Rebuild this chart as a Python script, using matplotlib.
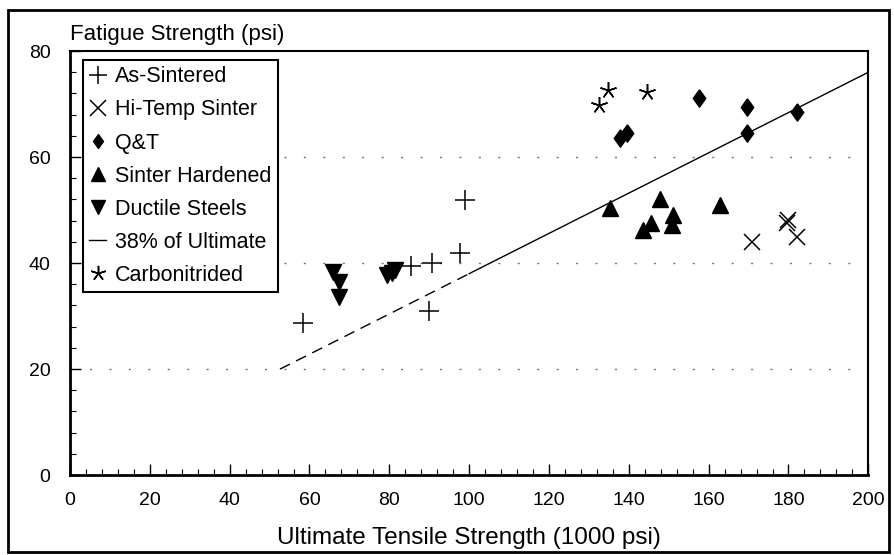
import numpy as np
import matplotlib.pyplot as plt
from matplotlib.patches import Rectangle
from matplotlib.ticker import MultipleLocator

plt.rcParams['font.family'] = ['Liberation Sans', 'DejaVu Sans']

# Fatigue strength vs ultimate tensile strength, by processing route
as_sintered_x = [58.4, 90.0, 85.5, 90.7, 97.7, 99.0]
as_sintered_y = [28.7, 30.9, 39.4, 40.0, 41.9, 51.9]

hi_temp_x = [170.9, 179.7, 180.0, 182.2]
hi_temp_y = [44.0, 47.5, 48.1, 44.9]

qt_x = [137.8, 139.6, 157.6, 169.6, 169.6, 182.2]
qt_y = [63.6, 64.5, 71.1, 69.4, 64.5, 68.5]

sinter_hard_x = [135.3, 143.6, 145.6, 147.9, 150.9, 151.1, 162.9]
sinter_hard_y = [50.4, 46.2, 47.5, 52.1, 47.2, 49.0, 50.9]

ductile_x = [65.9, 67.4, 67.4, 79.4, 80.6, 81.5]
ductile_y = [38.3, 36.4, 33.6, 37.7, 38.1, 38.7]

carbo_x = [132.6, 134.8, 144.6]
carbo_y = [69.8, 72.6, 72.3]

ratio = 0.38
line_start, line_break, line_end = 52.6, 100.0, 200.0

# slightly tall diamond
diamond = [(0, 1), (0.72, 0), (0, -1), (-0.72, 0), (0, 1)]

fig = plt.figure(figsize=(8.95, 5.55), dpi=100)
ax = fig.add_axes([0.0782, 0.144, 0.892, 0.764])

# dotted reference lines
for yv in [20, 40, 60]:
    ax.axhline(yv, color='0.45', lw=1.0, ls=(0, (1.5, 12.5)), zorder=0)

# 38% of ultimate: dashed at low strength, solid above
xd = np.array([line_start, line_break])
xs = np.array([line_break, line_end])
ax.plot(xd, ratio * xd, color='black', lw=1.0, ls=(0, (8, 5)))
ax.plot(xs, ratio * xs, color='black', lw=1.0)

kw = dict(ls='none', color='black')
h1, = ax.plot(as_sintered_x, as_sintered_y, marker='+', ms=15, mew=1.1, **kw)
h2, = ax.plot(hi_temp_x, hi_temp_y, marker='x', ms=12, mew=1.1, **kw)
h3, = ax.plot(qt_x, qt_y, marker=diamond, ms=12.5, **kw)
h4, = ax.plot(sinter_hard_x, sinter_hard_y, marker='^', ms=11, **kw)
h5, = ax.plot(ductile_x, ductile_y, marker='v', ms=11, **kw)
h6, = ax.plot([], [], color='black', lw=1.0)
h7, = ax.plot(carbo_x, carbo_y, marker=(5, 2, 0), ms=12, mew=1.1, **kw)

leg = ax.legend([h1, h2, h3, h4, h5, h6, h7],
                ['As-Sintered', 'Hi-Temp Sinter', 'Q&T', 'Sinter Hardened',
                 'Ductile Steels', '38% of Ultimate', 'Carbonitrided'],
                loc='upper left', bbox_to_anchor=(0.016, 0.979), borderaxespad=0,
                fontsize=15.5, handlelength=0.8, handletextpad=0.4, labelspacing=0.56,
                borderpad=0.3, fancybox=False, framealpha=1, edgecolor='black')
leg.get_frame().set_linewidth(1.5)
for h, s in zip(leg.legend_handles, [13, 11, 10, 10, 10, None, 11]):
    if s:
        h.set_markersize(s)

ax.set_xlim(0, 200)
ax.set_ylim(0, 80)
ax.xaxis.set_major_locator(MultipleLocator(20))
ax.xaxis.set_minor_locator(MultipleLocator(4))
ax.yaxis.set_major_locator(MultipleLocator(20))
ax.yaxis.set_minor_locator(MultipleLocator(4))
ax.tick_params(which='both', direction='in', top=False, right=False, labelsize=14)
ax.tick_params(axis='x', which='major', length=8, width=1.0, pad=12)
ax.tick_params(axis='y', which='major', length=8, width=1.0, pad=14)
ax.tick_params(which='minor', length=4, width=0.8)

for side in ['left', 'bottom']:
    ax.spines[side].set_linewidth(2.0)
for side in ['top', 'right']:
    ax.spines[side].set_linewidth(1.5)

ax.set_xlabel('Ultimate Tensile Strength (1000 psi)', fontsize=17.5, labelpad=13)
fig.text(0.078, 0.937, 'Fatigue Strength (psi)', fontsize=16, ha='left', va='center')

# outer box around the whole figure
fig.patches.append(Rectangle((0.009, 0.006), 0.984, 0.976, transform=fig.transFigure,
                             fill=False, edgecolor='black', lw=2.0))

fig.savefig('out.png', dpi=100)
